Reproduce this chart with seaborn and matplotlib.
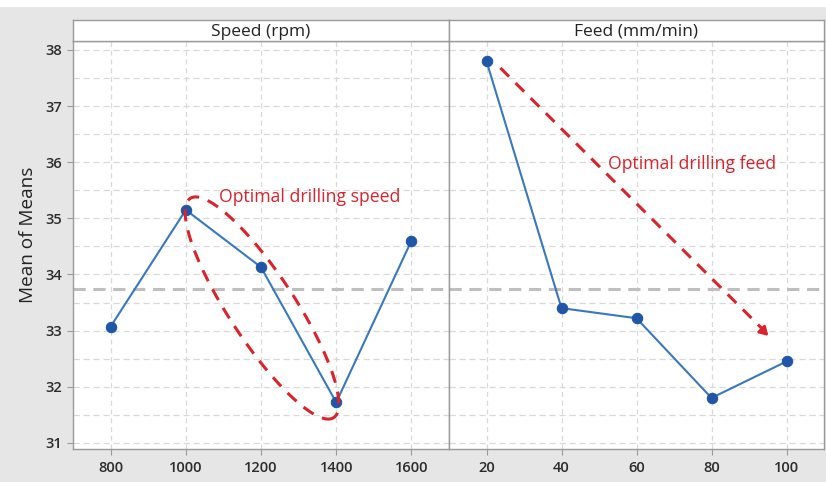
import numpy as np
import pandas as pd
import seaborn as sns
import matplotlib.pyplot as plt
from matplotlib.lines import Line2D
from matplotlib.patches import Rectangle

speed = [800, 1000, 1200, 1400, 1600]
speed_means = [33.07, 35.15, 34.13, 31.72, 34.60]
feed = [20, 40, 60, 80, 100]
feed_means = [37.80, 33.40, 33.22, 31.80, 32.45]
yticks = [31, 32, 33, 34, 35, 36, 37, 38]

sns.set_style("white")
plt.rcParams['font.family'] = ['Open Sans', 'DejaVu Sans']

df_speed = pd.DataFrame({"level": speed, "mean": speed_means})
df_feed = pd.DataFrame({"level": feed, "mean": feed_means})
grand_mean = np.mean(speed_means)

W, H = 826, 482
fig = plt.figure(figsize=(W / 100, H / 100), dpi=100)
fig.patch.set_facecolor("white")
fig.patches.append(Rectangle((0, 0), 1, 1 - 7 / H, transform=fig.transFigure,
                             facecolor="#e6e6e6", edgecolor="none", zorder=-10))


def fx(px):
    return px / W


def fy(py):
    return 1 - py / H


line_col = "#3a78bd"
mark_col = "#1f56a8"
grid_col = "#d9d9d9"
red = "#d9232d"

panels = [
    (73, 449, df_speed, (700, 1700), "Speed (rpm)"),
    (449, 824, df_feed, (10, 110), "Feed (mm/min)"),
]
axes = []
for i, (x0, x1, d, xl, title) in enumerate(panels):
    ax = fig.add_axes([fx(x0), fy(449), (x1 - x0) / W, (449 - 41) / H])
    ax.set_facecolor("white")
    # gridlines
    for t in d["level"]:
        ax.axvline(t, color=grid_col, ls=(0, (4, 3)), lw=0.9, zorder=0)
    for yv in np.arange(31, 38.01, 0.5):
        ax.axhline(yv, color=grid_col, ls=(0, (5, 3)), lw=0.9, zorder=0)
    ax.axhline(grand_mean, color="#bfbfbf", ls=(0, (4, 2.5)), lw=2.2, zorder=1)
    sns.lineplot(data=d, x="level", y="mean", ax=ax, color=line_col, lw=1.5,
                 marker="o", markersize=7.5, markerfacecolor=mark_col,
                 markeredgecolor=mark_col, zorder=3)
    ax.set_xlim(*xl)
    ax.set_ylim(30.89, 38.16)
    ax.set_xticks(d["level"])
    ax.set_yticks(yticks)
    ax.set_xlabel("")
    ax.set_ylabel("")
    ax.tick_params(axis="both", length=4, width=0.8, color="#9a9a9a",
                   labelsize=10.5, labelcolor="#2b2b2b", direction="out")
    ax.tick_params(axis="x", pad=5)
    for s in ax.spines.values():
        s.set_color("#9a9a9a")
        s.set_linewidth(1.0)
    if i == 0:
        ax.tick_params(axis="y", left=True)
    else:
        ax.tick_params(axis="y", left=False, labelleft=False)
    ax.tick_params(axis="x", bottom=True)
    for lab in ax.get_xticklabels() + ax.get_yticklabels():
        lab.set_fontweight("semibold")
    # header strip
    hx = fig.add_axes([fx(x0), fy(41), (x1 - x0) / W, 21 / H])
    hx.set_facecolor("white")
    hx.set_xticks([])
    hx.set_yticks([])
    for s in hx.spines.values():
        s.set_color("#9a9a9a")
        s.set_linewidth(1.0)
    hx.text(0.5, 0.45, title, ha="center", va="center", fontsize=12.5,
            color="#222222", transform=hx.transAxes)
    axes.append(ax)

ax1, ax2 = axes

fig.text(fx(28), fy(235), "Mean of Means", rotation=90, ha="center", va="center",
         fontsize=13.7, color="#222222")

# dashed ellipse around the optimal speed region (drawn in figure pixels)
cx, cy, a, b = 262, 308, 131, 33
ang = np.arctan2(220, 144)
t = np.linspace(0, 2 * np.pi, 300)
ex = cx + a * np.cos(t) * np.cos(ang) - b * np.sin(t) * np.sin(ang)
ey = cy + a * np.cos(t) * np.sin(ang) + b * np.sin(t) * np.cos(ang)
fig.add_artist(Line2D(fx(ex), fy(ey), transform=fig.transFigure, color=red,
                      lw=2.2, ls=(0, (4, 3)), zorder=5))
ax1.text(1088, 35.38, "Optimal drilling speed", color=red, fontsize=12.7,
         ha="left", va="center", zorder=6)

# dashed arrow for optimal feed
ax2.plot([23.7, 94.0], [37.68, 33.0], color=red, lw=2.2, ls=(0, (4, 3)), zorder=5)
ax2.annotate("", xy=(95.7, 32.87), xytext=(93.0, 33.05),
             arrowprops=dict(arrowstyle="-|>,head_length=0.5,head_width=0.3",
                             color=red, lw=2.0), zorder=5)
ax2.text(52.4, 35.97, "Optimal drilling feed", color=red, fontsize=12.7,
         ha="left", va="center", zorder=6)

fig.savefig("out.png", dpi=100, facecolor=fig.get_facecolor())
